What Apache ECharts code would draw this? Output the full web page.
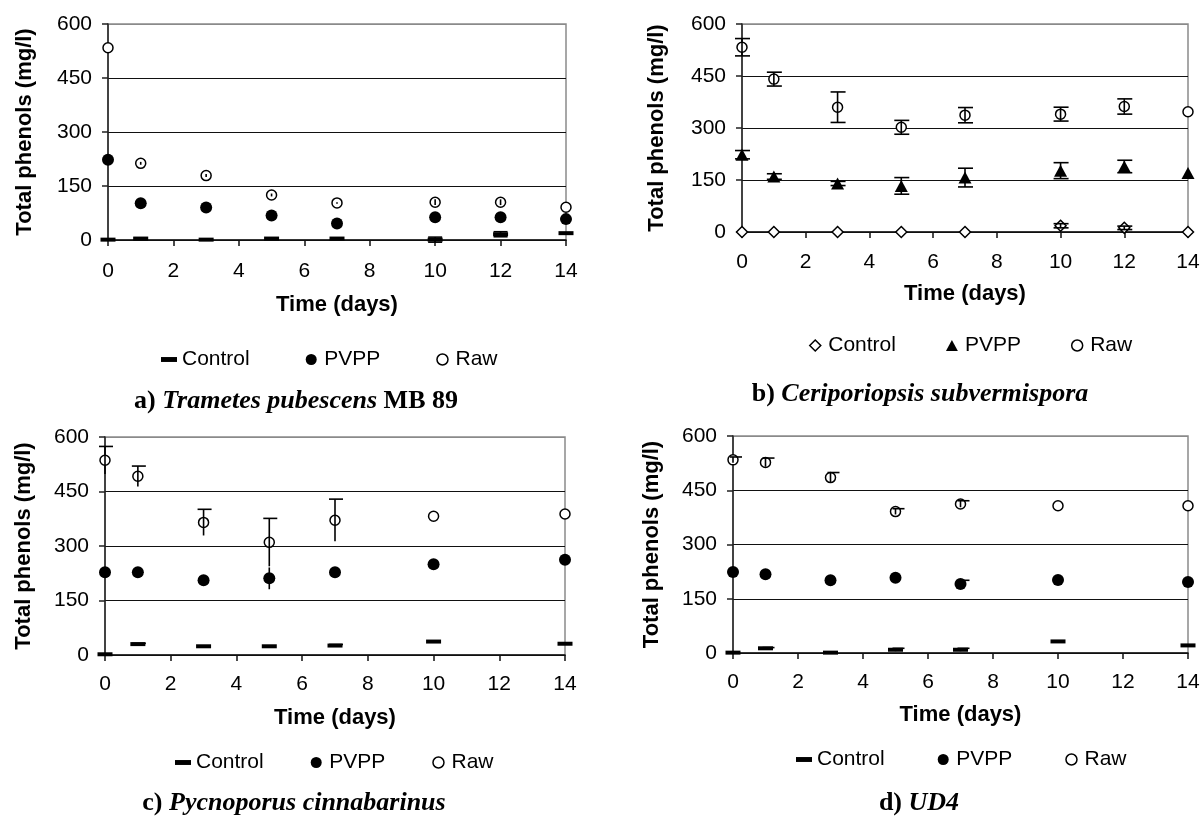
<!DOCTYPE html>
<html>
<head>
<meta charset="utf-8">
<script src="https://cdn.jsdelivr.net/npm/echarts@6/dist/echarts.min.js"></script>
<style>
html, body { margin: 0; padding: 0; background: #fff; }
#chart { width: 1204px; height: 817px; }
</style>
</head>
<body>
<div id="chart"></div>
<script>
// ---- Sampling days ----
const daysAB = [0, 1, 3, 5, 7, 10, 12, 14];
const daysCD = [0, 1, 3, 5, 7, 10, 14];

// ---- a) Trametes pubescens MB 89 (mg/l) ----
const aControl    = [1, 4, 1, 4, 4, 1, 16, 19];
const aControlErr = [0, 2, 0, 0, 0, 7, 7, 0];
const aPVPP       = [223, 102, 90, 68, 46, 63, 63, 58];
const aPVPPErr    = [0, 0, 0, 0, 0, 0, 0, 0];
const aRaw        = [534, 213, 179, 125, 103, 105, 105, 91];
const aRawErr     = [0, 4, 4, 4, 2, 8, 8, 0];

// ---- b) Ceriporiopsis subvermispora (mg/l) ----
const bControl    = [0, 0, 0, 0, 0, 18, 12, 0];
const bControlErr = [0, 0, 0, 0, 0, 6, 5, 0];
const bPVPP       = [223, 160, 140, 133, 157, 177, 189, 170];
const bPVPPErr    = [12, 8, 6, 24, 27, 23, 18, 0];
const bRaw        = [533, 441, 360, 302, 337, 340, 362, 347];
const bRawErr     = [25, 20, 44, 20, 22, 20, 22, 0];

// ---- c) Pycnoporus cinnabarinus (mg/l) ----
const cControl    = [2, 30, 24, 24, 26, 37, 31];
const cControlErr = [0, 2, 0, 0, 3, 0, 0];
const cPVPP       = [228, 228, 206, 211, 228, 250, 262];
const cPVPPErr    = [0, 0, 0, 30, 0, 0, 0];
const cRaw        = [536, 492, 365, 310, 371, 382, 388];
const cRawErr     = [38, 28, 36, 66, 58, 0, 0];

// ---- d) UD4 (mg/l) ----
const dControl    = [1, 13, 1, 9, 9, 32, 21];
const dControlErr = [0, 2, 0, 4, 4, 0, 0];
const dPVPP       = [224, 218, 201, 208, 191, 202, 196];
const dPVPPErr    = [0, 0, 0, 0, 10, 0, 0];
const dRaw        = [534, 527, 485, 391, 412, 407, 407];
const dRawErr     = [8, 12, 14, 8, 9, 0, 0];

// ---- Axis ticks and labels ----
const yTicks = { min: 0, max: 600, interval: 150 };
const xTicks = { min: 0, max: 14, interval: 2 };
const seriesNames = ['Control', 'PVPP', 'Raw'];
const xName = 'Time (days)';
const yName = 'Total phenols (mg/l)';

// ---- Marker styles ----
const SANS = 'Liberation Sans, Arial, sans-serif';
const SERIF = 'Liberation Serif, Times New Roman, serif';
const dash = { symbol: 'rect', size: [15, 4], color: '#000', border: '#000', bw: 0,
               icon: 'path://M0,0L13,0L13,4L0,4Z' };
const dot  = { symbol: 'circle', size: 12, color: '#000', border: '#000', bw: 0, icon: 'circle' };
const ring = { symbol: 'circle', size: 10, color: '#fff', border: '#000', bw: 1.5, icon: 'circle' };
const tri  = { symbol: 'triangle', size: [13, 12], color: '#000', border: '#000', bw: 0,
               icon: 'path://M6.5,0L13,12L0,12Z' };
const diam = { symbol: 'diamond', size: [11, 11], color: '#fff', border: '#000', bw: 1.5,
               icon: 'path://M5,0L10,5L5,10L0,5Z' };

// ---- Panel layout ----
const panels = [
  { days: daysAB, vals: [aControl, aPVPP, aRaw], errs: [aControlErr, aPVPPErr, aRawErr],
    marks: [dash, dot, ring],
    grid: { left: 108, top: 24, width: 458, height: 216 },
    xLabelMargin: 21, xNameGap: 54, yNameGap: 72,
    cap: { top: true, bottom: true, l: -7, r: 7, on: [true, true, false] },
    legend: { left: 161, mid: 360, gap: 56 },
    caption: { x: 296, y: 403, parts: [['b', 'a) '], ['bi', 'Trametes pubescens'], ['b', ' MB 89']] } },
  { days: daysAB, vals: [bControl, bPVPP, bRaw], errs: [bControlErr, bPVPPErr, bRawErr],
    marks: [diam, tri, ring],
    grid: { left: 742, top: 24, width: 446, height: 208 },
    xLabelMargin: 20, xNameGap: 51, yNameGap: 74,
    cap: { top: true, bottom: true, l: -7, r: 8, on: [true, true, true] },
    legend: { left: 809, mid: 346, gap: 50 },
    caption: { x: 920, y: 396, parts: [['b', 'b) '], ['bi', 'Ceriporiopsis subvermispora']] } },
  { days: daysCD, vals: [cControl, cPVPP, cRaw], errs: [cControlErr, cPVPPErr, cRawErr],
    marks: [dash, dot, ring],
    grid: { left: 105, top: 437, width: 460, height: 218 },
    xLabelMargin: 19, xNameGap: 52, yNameGap: 70,
    cap: { top: true, bottom: false, l: -6, r: 8, on: [true, false, true] },
    legend: { left: 175, mid: 763, gap: 47 },
    caption: { x: 294, y: 805, parts: [['b', 'c) '], ['bi', 'Pycnoporus cinnabarinus']] } },
  { days: daysCD, vals: [dControl, dPVPP, dRaw], errs: [dControlErr, dPVPPErr, dRawErr],
    marks: [dash, dot, ring],
    grid: { left: 733, top: 436, width: 455, height: 217 },
    xLabelMargin: 19, xNameGap: 51, yNameGap: 70,
    cap: { top: true, bottom: false, l: -3, r: 9, on: [true, true, true] },
    legend: { left: 796, mid: 760, gap: 53 },
    caption: { x: 919, y: 805, parts: [['b', 'd) '], ['bi', 'UD4']] } }
];

const grids = [], xAxes = [], yAxes = [], series = [], legends = [], titles = [];
const nameStyle = { fontFamily: SANS, fontWeight: 'bold', fontSize: 22, color: '#000' };
const tickStyle = { fontFamily: SANS, fontSize: 21, color: '#000' };

panels.forEach((p, i) => {
  grids.push(Object.assign({ show: true, borderColor: '#8a8a8a', borderWidth: 1.5,
    backgroundColor: '#fff', containLabel: false, outerBoundsMode: 'none' }, p.grid));

  xAxes.push({
    gridIndex: i, type: 'value', min: xTicks.min, max: xTicks.max, interval: xTicks.interval,
    name: xName, nameLocation: 'middle', nameGap: p.xNameGap, nameMoveOverlap: false,
    nameTextStyle: nameStyle,
    axisLine: { show: true, onZero: false, lineStyle: { color: '#111', width: 1.5 } },
    axisTick: { show: true, inside: false, length: 6, lineStyle: { color: '#111', width: 1.5 } },
    axisLabel: Object.assign({ show: true, margin: p.xLabelMargin }, tickStyle),
    splitLine: { show: false }
  });

  yAxes.push({
    gridIndex: i, type: 'value', min: yTicks.min, max: yTicks.max, interval: yTicks.interval,
    name: yName, nameLocation: 'middle', nameGap: p.yNameGap, nameMoveOverlap: false,
    nameTextStyle: nameStyle,
    axisLine: { show: true, lineStyle: { color: '#222', width: 1.5 } },
    axisTick: { show: true, inside: false, length: 6, lineStyle: { color: '#222', width: 1.5 } },
    axisLabel: Object.assign({ show: true, margin: 16 }, tickStyle),
    splitLine: { show: true, lineStyle: { color: ['#111', '#111', '#111', '#111', '#8a8a8a'], width: 1 } }
  });

  // Markers for each treatment
  seriesNames.forEach((name, k) => {
    const m = p.marks[k];
    series.push({
      name: name, type: 'scatter', xAxisIndex: i, yAxisIndex: i,
      symbol: m.symbol, symbolSize: m.size, z: 3, silent: true,
      itemStyle: { color: m.color, borderColor: m.border, borderWidth: m.bw, opacity: 1 },
      data: p.days.map((d, j) => [d, p.vals[k][j]])
    });
  });

  // Error bars (whisker plus optional caps), drawn over the markers
  const barData = [];
  seriesNames.forEach((name, k) => {
    p.days.forEach((d, j) => {
      const e = p.errs[k][j];
      if (e > 0) barData.push([d, p.vals[k][j] - e, p.vals[k][j] + e, p.cap.on[k] ? 1 : 0]);
    });
  });
  const cap = p.cap;
  series.push({
    type: 'custom', xAxisIndex: i, yAxisIndex: i, z: 4, silent: true, clip: false,
    encode: { x: 0, y: [1, 2] },
    data: barData,
    renderItem: (params, api) => {
      const x = api.value(0);
      const withCaps = api.value(3) === 1;
      const hi = api.coord([x, api.value(2)]);
      const lo = api.coord([x, api.value(1)]);
      const st = { stroke: '#000', lineWidth: 1.6 };
      const kids = [{ type: 'line', shape: { x1: hi[0], y1: hi[1], x2: lo[0], y2: lo[1] }, style: st }];
      if (withCaps && cap.top) kids.push({ type: 'line',
        shape: { x1: hi[0] + cap.l, y1: hi[1], x2: hi[0] + cap.r, y2: hi[1] }, style: st });
      if (withCaps && cap.bottom) kids.push({ type: 'line',
        shape: { x1: lo[0] + cap.l, y1: lo[1], x2: lo[0] + cap.r, y2: lo[1] }, style: st });
      return { type: 'group', children: kids };
    }
  });

  legends.push({
    left: p.legend.left, top: p.legend.mid - 11, orient: 'horizontal',
    itemGap: p.legend.gap, itemWidth: 16, itemHeight: 11, selectedMode: false,
    symbolKeepAspect: true, padding: 0,
    textStyle: { fontFamily: SANS, fontSize: 21, color: '#000' },
    data: seriesNames.map((name, k) => ({
      name: name, icon: p.marks[k].icon,
      itemStyle: { color: p.marks[k].color, borderColor: p.marks[k].border,
                   borderWidth: p.marks[k].bw }
    }))
  });

  titles.push({
    left: p.caption.x, top: p.caption.y - 15, textAlign: 'center', padding: 0,
    text: p.caption.parts.map(([s, t]) => '{' + s + '|' + t + '}').join(''),
    textStyle: {
      rich: {
        b:  { fontFamily: SERIF, fontWeight: 'bold', fontSize: 26, color: '#000' },
        bi: { fontFamily: SERIF, fontWeight: 'bold', fontStyle: 'italic', fontSize: 26, color: '#000' }
      }
    }
  });
});

const chart = echarts.init(document.getElementById('chart'), null, { renderer: 'canvas' });
chart.setOption({
  animation: false,
  backgroundColor: '#fff',
  title: titles,
  legend: legends,
  grid: grids,
  xAxis: xAxes,
  yAxis: yAxes,
  series: series
});
</script>
</body>
</html>
